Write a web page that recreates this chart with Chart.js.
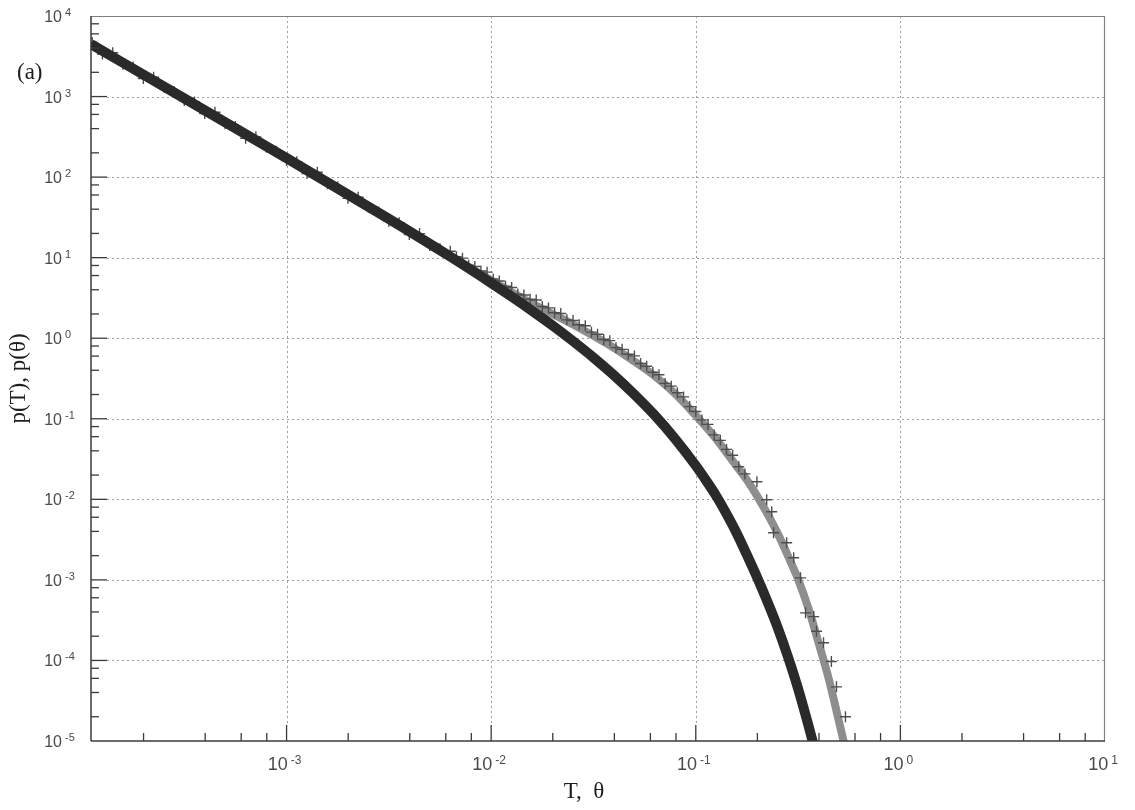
<!DOCTYPE html>
<html>
<head>
<meta charset="utf-8">
<script src="https://cdn.jsdelivr.net/npm/chart.js@4.4.1/dist/chart.umd.min.js"></script>
<style>
  html, body { margin: 0; padding: 0; background: #fff; }
  #wrap { width: 1135px; height: 810px; }
</style>
</head>
<body>
<div id="wrap"><canvas id="chart" width="1135" height="810"></canvas></div>
<script>
// ---------- DATA ----------
// black curve p(T)
const blackT = [1.107e-4, 3.162e-4, 1.0e-3, 3.162e-3, 6.31e-3, 0.01, 0.01259, 0.01585, 0.01995, 0.02512,
  0.03162, 0.03981, 0.05012, 0.0631, 0.07943, 0.1, 0.1122, 0.1259, 0.1413, 0.1585,
  0.1778, 0.1995, 0.2239, 0.2512, 0.2818, 0.3162, 0.3548, 0.3981];
const blackP = [4467, 948, 172, 30.3, 10.3, 4.85, 3.28, 2.19, 1.44, 0.92,
  0.575, 0.347, 0.200, 0.110, 0.0560, 0.0262, 0.0172, 0.0110, 0.0066, 0.0038,
  0.00204, 0.00107, 5.37e-4, 2.57e-4, 1.12e-4, 4.47e-5, 1.58e-5, 5.25e-6];

// grey curve p(theta)
const greyT = [1.107e-4, 3.162e-4, 1.0e-3, 3.162e-3, 5.012e-3, 6.31e-3, 7.943e-3, 0.01, 0.01259, 0.01585,
  0.01995, 0.02512, 0.03162, 0.03981, 0.05012, 0.0631, 0.07943, 0.1, 0.1122, 0.1259,
  0.1413, 0.1585, 0.1778, 0.1995, 0.2239, 0.2512, 0.2818, 0.3162, 0.3548, 0.3981,
  0.4467, 0.5012, 0.5623];
const greyP = [4467, 948, 172, 30.3, 15.1, 10.7, 7.41, 5.25, 3.72, 2.69,
  2.00, 1.48, 1.07, 0.759, 0.513, 0.339, 0.204, 0.110, 0.0794, 0.0562,
  0.0380, 0.0257, 0.01738, 0.01096, 0.00661, 0.00380, 0.00200, 0.00102, 4.47e-4, 1.66e-4,
  5.89e-5, 1.74e-5, 5.0e-6];

// "+" histogram points
const markT = [1.122e-4, 1.259e-4, 1.413e-4, 1.585e-4, 1.778e-4, 1.995e-4, 2.239e-4, 2.512e-4, 2.818e-4, 3.162e-4,
  3.548e-4, 3.981e-4, 4.467e-4, 5.012e-4, 5.623e-4, 6.31e-4, 7.079e-4, 7.943e-4, 8.913e-4, 1.0e-3,
  1.122e-3, 1.259e-3, 1.413e-3, 1.585e-3, 1.778e-3, 1.995e-3, 2.239e-3, 2.512e-3, 2.818e-3, 3.162e-3,
  3.548e-3, 3.981e-3, 4.467e-3, 5.012e-3, 5.623e-3,
  6.31e-3, 6.76e-3, 7.24e-3, 7.76e-3, 8.32e-3, 8.91e-3, 9.55e-3, 0.01023, 0.01096, 0.01175,
  0.01259, 0.01349, 0.01445, 0.01549, 0.0166, 0.01778, 0.01905, 0.02042, 0.02188, 0.02344,
  0.02512, 0.02692, 0.02884, 0.0309, 0.03311, 0.03548, 0.03802, 0.04074, 0.04365, 0.04677,
  0.05012, 0.0537, 0.05754, 0.06166, 0.06607, 0.07079, 0.07586, 0.08128, 0.0871, 0.09333,
  0.1, 0.1072, 0.1148, 0.123, 0.1318, 0.1413, 0.1514, 0.1622, 0.1738,
  0.199, 0.222, 0.235, 0.240, 0.278, 0.301, 0.325, 0.344, 0.377, 0.389,
  0.421, 0.460, 0.487, 0.539];
const markP = [4690, 3370, 3500, 2520, 2330, 1675, 1740, 1310, 1156, 891,
  857, 615, 638, 459, 424, 304, 316, 237, 209, 161,
  155, 111, 115, 82.6, 76.0, 54.5, 56.2, 42.2, 37.0, 28.3,
  27.2, 19.4, 19.9, 14.2, 12.9,
  12.0, 10.3, 9.86, 8.05, 7.76, 6.84, 6.61, 5.43, 5.13, 4.42,
  4.27, 3.53, 3.44, 3.05, 2.98, 2.48, 2.38, 2.07, 2.03, 1.69,
  1.66, 1.47, 1.43, 1.19, 1.12, 0.966, 0.933, 0.764, 0.728, 0.632,
  0.603, 0.485, 0.449, 0.378, 0.352, 0.275, 0.254, 0.210, 0.187, 0.1416,
  0.123, 0.0968, 0.0851, 0.0631, 0.0540, 0.0417, 0.0353, 0.0254, 0.0207,
  0.0165, 0.0099, 0.0070, 0.00385, 0.00289, 0.00188, 0.00106, 3.9e-4, 3.5e-4, 2.3e-4,
  1.66e-4, 9.7e-5, 4.7e-5, 2.0e-5];

// axes
const xMin = 1.107e-4, xMax = 10;
const yMin = 1e-5, yMax = 1e4;
const xDecades = [-3, -2, -1, 0, 1];
const yDecades = [4, 3, 2, 1, 0, -1, -2, -3, -4, -5];
const minorMult = [2, 4, 6, 8];

const pts = (xs, ys) => xs.map((v, i) => ({ x: v, y: ys[i] }));

// ---------- DRAW HELPERS ----------
function seg(ctx, x1, y1, x2, y2) {
  ctx.beginPath();
  ctx.moveTo(x1, y1);
  ctx.lineTo(x2, y2);
  ctx.stroke();
}

// "10" with a small raised exponent
function powLabel(ctx, k, px, py, mode) {
  const big = mode === "x" ? 18 : 16;
  const small = mode === "x" ? 12 : 11;
  const exp = String(k);
  ctx.font = `${big}px "Liberation Sans", Arial, sans-serif`;
  const w10 = ctx.measureText("10").width;
  ctx.font = `${small}px "Liberation Sans", Arial, sans-serif`;
  const wExp = ctx.measureText(exp).width;
  const gap = 3;
  let x0;
  if (mode === "x") x0 = px - (w10 + gap + wExp) / 2 - 2;
  else x0 = px - w10; // "10" right-aligned at px
  ctx.textAlign = "left";
  ctx.textBaseline = "alphabetic";
  ctx.font = `${big}px "Liberation Sans", Arial, sans-serif`;
  ctx.fillText("10", x0, py);
  ctx.font = `${small}px "Liberation Sans", Arial, sans-serif`;
  ctx.fillText(exp, x0 + w10 + gap, py - 6);
}

const framePlugin = {
  id: "framePlugin",
  beforeDatasetsDraw(chart) {
    const { ctx, chartArea: a, scales: { x, y } } = chart;
    ctx.save();
    ctx.strokeStyle = "#a0a0a0";
    ctx.lineWidth = 1;
    ctx.setLineDash([2, 3]);
    xDecades.forEach(k => {
      const px = Math.round(x.getPixelForValue(Math.pow(10, k))) + 0.5;
      if (px <= a.left + 2 || px >= a.right - 2) return;
      seg(ctx, px, a.top, px, a.bottom - 16);
    });
    yDecades.forEach(k => {
      const py = Math.round(y.getPixelForValue(Math.pow(10, k))) + 0.5;
      if (py <= a.top + 2 || py >= a.bottom - 2) return;
      seg(ctx, a.left + 16, py, a.right, py);
    });
    ctx.restore();
  },
  afterDatasetsDraw(chart) {
    const { ctx, chartArea: a, scales: { x, y } } = chart;
    ctx.save();
    ctx.setLineDash([]);

    // top + right border (grey)
    ctx.strokeStyle = "#808080";
    ctx.lineWidth = 1.2;
    seg(ctx, a.left, a.top + 0.5, a.right, a.top + 0.5);
    seg(ctx, a.right - 0.5, a.top, a.right - 0.5, a.bottom);

    // left + bottom axes (dark)
    ctx.strokeStyle = "#3a3a3a";
    ctx.lineWidth = 1.5;
    seg(ctx, a.left, a.top, a.left, a.bottom);
    seg(ctx, a.left, a.bottom, a.right, a.bottom);

    // inward ticks
    ctx.lineWidth = 1.3;
    xDecades.forEach(k => {
      const base = Math.pow(10, k);
      const px = x.getPixelForValue(base);
      if (px > a.left + 2 && px < a.right - 2) seg(ctx, px, a.bottom, px, a.bottom - 16);
      minorMult.forEach(m => {
        const v = base / 10 * m;
        if (v < xMin) return;
        const mx = x.getPixelForValue(v);
        seg(ctx, mx, a.bottom, mx, a.bottom - 8);
      });
    });
    yDecades.forEach(k => {
      const base = Math.pow(10, k);
      const py = y.getPixelForValue(base);
      if (py > a.top + 2 && py < a.bottom - 2) seg(ctx, a.left, py, a.left + 16, py);
      if (k === yDecades[0]) return;
      minorMult.forEach(m => {
        const my = y.getPixelForValue(base * m);
        seg(ctx, a.left, my, a.left + 8, my);
      });
    });

    // tick labels
    ctx.fillStyle = "#4a4a4a";
    xDecades.forEach(k => powLabel(ctx, k, x.getPixelForValue(Math.pow(10, k)), a.bottom + 29, "x"));
    yDecades.forEach(k => powLabel(ctx, k, a.left - 29, y.getPixelForValue(Math.pow(10, k)) + 6, "y"));

    // axis titles + panel tag
    ctx.fillStyle = "#1e1e1e";
    ctx.font = '23px "Liberation Serif", "Times New Roman", serif';
    ctx.textAlign = "center";
    ctx.textBaseline = "alphabetic";
    ctx.fillText("T,  θ", (a.left + a.right) / 2 - 14, a.bottom + 57);
    ctx.save();
    ctx.translate(a.left - 66, (a.top + a.bottom) / 2);
    ctx.rotate(-Math.PI / 2);
    ctx.fillText("p(T), p(θ)", 0, 0);
    ctx.restore();
    ctx.textAlign = "left";
    ctx.fillText("(a)", a.left - 74, a.top + 63);
    ctx.restore();
  }
};

// ---------- CHART ----------
new Chart(document.getElementById("chart"), {
  type: "scatter",
  data: {
    datasets: [
      {
        label: "p(T)",
        data: pts(blackT, blackP),
        showLine: true,
        borderColor: "#2a2a2a",
        borderWidth: 10,
        pointRadius: 0,
        cubicInterpolationMode: "monotone",
        clip: 0,
        order: 0
      },
      {
        label: "histogram",
        data: pts(markT, markP),
        showLine: false,
        pointStyle: "cross",
        pointRadius: 5.5,
        pointBorderWidth: 1.4,
        pointBorderColor: "#4e4e4e",
        pointBackgroundColor: "#4e4e4e",
        clip: 0,
        order: 1
      },
      {
        label: "p(θ)",
        data: pts(greyT, greyP),
        showLine: true,
        borderColor: "#8e8e8e",
        borderWidth: 8,
        pointRadius: 0,
        cubicInterpolationMode: "monotone",
        clip: 0,
        order: 2
      }
    ]
  },
  options: {
    responsive: false,
    animation: false,
    events: [],
    layout: { padding: { left: 91, top: 16, right: 30, bottom: 69 } },
    plugins: { legend: { display: false }, tooltip: { enabled: false } },
    scales: {
      x: { type: "logarithmic", min: xMin, max: xMax, display: false },
      y: { type: "logarithmic", min: yMin, max: yMax, display: false }
    }
  },
  plugins: [framePlugin]
});
</script>
</body>
</html>
